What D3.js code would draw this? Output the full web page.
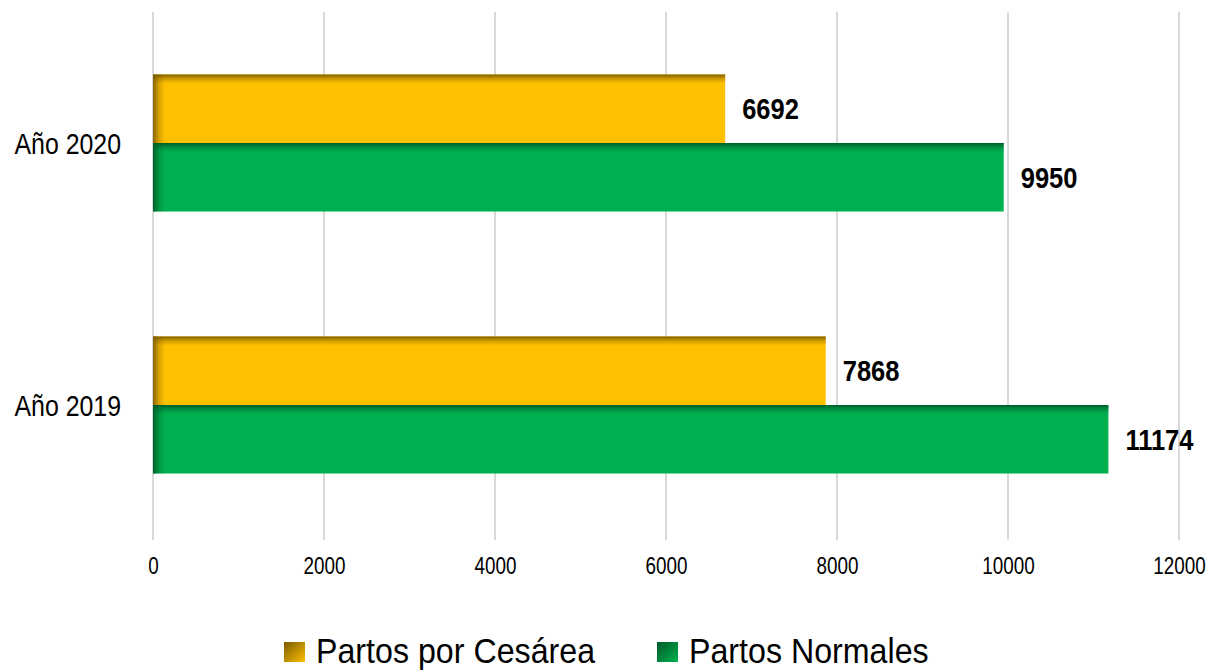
<!DOCTYPE html>
<html><head><meta charset="utf-8">
<script src="https://cdn.jsdelivr.net/npm/d3@7"></script>
<style>html,body{margin:0;padding:0;background:#fff;}</style>
</head><body>
<svg id="c" width="1211" height="672"></svg>
<script>
const categories = ["Año 2020", "Año 2019"];
const seriesNames = ["Partos por Cesárea", "Partos Normales"];
const cesarea = [6692, 7868];
const normales = [9950, 11174];
const tickValues = [0, 2000, 4000, 6000, 8000, 10000, 12000];
const colors = ["#FFC000", "#00B050"];
const darks = ["#7a5a00", "#005a28"];

const svg = d3.select("#c");
const FONT = "'Liberation Sans',Arial,sans-serif";

const x = d3.scaleLinear().domain([0, 12000]).range([153, 1179]);
const y = d3.scaleBand().domain(categories).range([12, 536]).paddingInner(0.477).paddingOuter(0.2385);
const ySub = d3.scaleBand().domain([0, 1]).range([0, y.bandwidth()]);

const defs = svg.append("defs");
colors.forEach((c, i) => {
  const gt = defs.append("linearGradient").attr("id", "top" + i).attr("x1", 0).attr("y1", 0).attr("x2", 0).attr("y2", 1);
  gt.append("stop").attr("offset", 0).attr("stop-color", darks[i]).attr("stop-opacity", 0.95);
  gt.append("stop").attr("offset", 0.5).attr("stop-color", darks[i]).attr("stop-opacity", 0.35);
  gt.append("stop").attr("offset", 1).attr("stop-color", darks[i]).attr("stop-opacity", 0);
  const gl = defs.append("linearGradient").attr("id", "left" + i).attr("x1", 0).attr("y1", 0).attr("x2", 1).attr("y2", 0);
  gl.append("stop").attr("offset", 0).attr("stop-color", darks[i]).attr("stop-opacity", 0.9);
  gl.append("stop").attr("offset", 0.5).attr("stop-color", darks[i]).attr("stop-opacity", 0.3);
  gl.append("stop").attr("offset", 1).attr("stop-color", darks[i]).attr("stop-opacity", 0);
  const gs = defs.append("linearGradient").attr("id", "sw" + i).attr("x1", 0).attr("y1", 0).attr("x2", 1).attr("y2", 1);
  gs.append("stop").attr("offset", 0).attr("stop-color", darks[i]);
  gs.append("stop").attr("offset", 1).attr("stop-color", c);
});

// gridlines
svg.append("g").selectAll("line").data(tickValues).join("line")
  .attr("x1", d => x(d)).attr("x2", d => x(d))
  .attr("y1", 12).attr("y2", 540)
  .attr("stroke", "#d9d9d9").attr("stroke-width", 2);

// tick labels via axis
const ax = svg.append("g").attr("transform", "translate(0,574)")
  .call(d3.axisBottom(x).tickValues(tickValues).tickFormat(d3.format("d")).tickSize(0).tickPadding(0));
ax.select(".domain").remove();
ax.selectAll(".tick text").attr("y", 0).attr("dy", 0)
  .attr("transform", "scale(0.82,1)")
  .attr("font-family", FONT).attr("font-size", 23).attr("fill", "#000");

// category labels
svg.append("g").selectAll("text").data(categories).join("text")
  .attr("transform", d => `translate(121,${y(d) + y.bandwidth() / 2 + 11}) scale(0.83,1)`)
  .attr("text-anchor", "end")
  .attr("font-family", FONT).attr("font-size", 30).attr("fill", "#000")
  .text(d => d);

const rows = [];
categories.forEach((c, ci) => {
  rows.push({cat: c, s: 0, v: cesarea[ci]});
  rows.push({cat: c, s: 1, v: normales[ci]});
});

const bars = svg.append("g").selectAll("g").data(rows).join("g")
  .attr("transform", d => `translate(0,${y(d.cat) + ySub(d.s)})`);
const bh = ySub.bandwidth();
bars.append("rect").attr("x", x(0)).attr("y", 0).attr("width", d => x(d.v) - x(0)).attr("height", bh)
  .attr("fill", d => colors[d.s]);
bars.append("rect").attr("x", x(0)).attr("y", 0).attr("width", d => x(d.v) - x(0)).attr("height", 9)
  .attr("fill", d => `url(#top${d.s})`);
bars.append("rect").attr("x", x(0)).attr("y", 0).attr("width", 12).attr("height", bh)
  .attr("fill", d => `url(#left${d.s})`);
bars.append("text")
  .attr("transform", d => `translate(${x(d.v) + 17},${bh / 2 + 10.5}) scale(0.85,1)`)
  .attr("font-family", FONT).attr("font-weight", "bold").attr("font-size", 30).attr("fill", "#000")
  .text(d => d.v);

// legend
const legendX = [284, 657];
const lg = svg.append("g").selectAll("g").data(seriesNames).join("g")
  .attr("transform", (d, i) => `translate(${legendX[i]},642)`);
lg.append("rect").attr("width", 21).attr("height", 20).attr("fill", (d, i) => `url(#sw${i})`);
lg.append("text").attr("transform", "translate(32,21) scale(0.92,1)")
  .attr("font-family", FONT).attr("font-size", 35).attr("fill", "#000").text(d => d);
</script>
</body></html>
